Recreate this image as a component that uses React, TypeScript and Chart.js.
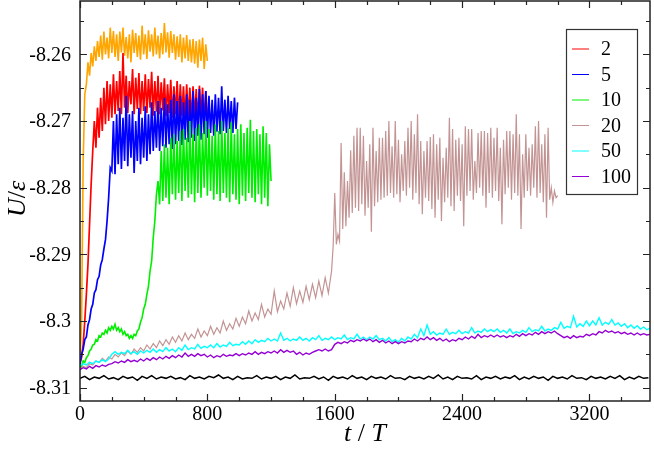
import React, { useEffect, useRef } from "react";
import { Chart, registerables } from "chart.js";

Chart.register(...registerables);

// ---- data (U/eps versus t/T) ----
// orange reference run (no legend entry), t = 0..800, step 10
const orangeU = [
  -8.3060, -8.3000, -8.2760, -8.2660, -8.2645, -8.2612, -8.2632, -8.2598, -8.2618, -8.2588,
  -8.2610, -8.2580, -8.2604, -8.2572, -8.2608, -8.2566, -8.2600, -8.2575, -8.2606, -8.2560,
  -8.2598, -8.2565, -8.2604, -8.2570, -8.2610, -8.2566, -8.2597, -8.2560, -8.2602, -8.2574,
  -8.2606, -8.2570, -8.2612, -8.2563, -8.2598, -8.2568, -8.2604, -8.2572, -8.2608, -8.2557,
  -8.2600, -8.2570, -8.2607, -8.2564, -8.2596, -8.2570, -8.2603, -8.2560, -8.2600, -8.2572,
  -8.2606, -8.2568, -8.2600, -8.2553, -8.2597, -8.2567, -8.2605, -8.2565, -8.2598, -8.2570,
  -8.2608, -8.2573, -8.2604, -8.2570, -8.2612, -8.2575, -8.2606, -8.2571, -8.2610, -8.2578,
  -8.2612, -8.2577, -8.2614, -8.2580, -8.2620, -8.2578, -8.2610, -8.2575, -8.2622, -8.2585,
  -8.2610,
];

// N = 2, t = 0..800, step 10
const n2U = [
  -8.3062, -8.3055, -8.3035, -8.3000, -8.2960, -8.2915, -8.2855, -8.2795, -8.2745, -8.2700,
  -8.2740, -8.2680, -8.2725, -8.2665, -8.2715, -8.2650, -8.2705, -8.2640, -8.2700, -8.2645,
  -8.2695, -8.2630, -8.2690, -8.2640, -8.2685, -8.2625, -8.2690, -8.2598, -8.2680, -8.2632,
  -8.2688, -8.2640, -8.2675, -8.2622, -8.2690, -8.2635, -8.2682, -8.2628, -8.2690, -8.2640,
  -8.2685, -8.2630, -8.2688, -8.2637, -8.2680, -8.2626, -8.2692, -8.2640, -8.2686, -8.2632,
  -8.2690, -8.2642, -8.2684, -8.2636, -8.2693, -8.2645, -8.2688, -8.2638, -8.2695, -8.2648,
  -8.2690, -8.2640, -8.2696, -8.2645, -8.2692, -8.2648, -8.2698, -8.2645, -8.2694, -8.2650,
  -8.2700, -8.2648, -8.2696, -8.2652, -8.2700, -8.2647, -8.2695, -8.2650, -8.2702, -8.2655,
  -8.2690,
];

// N = 5, t = 0..990, step 10
const n5U = [
  -8.3065, -8.3050, -8.3042, -8.3028, -8.3024, -8.3006, -8.2998, -8.2982, -8.2975, -8.2958,
  -8.2953, -8.2938, -8.2933, -8.2916, -8.2908, -8.2892, -8.2878, -8.2850, -8.2815, -8.2770,
  -8.2775, -8.2700, -8.2780, -8.2690, -8.2765, -8.2680, -8.2772, -8.2695, -8.2760, -8.2662,
  -8.2768, -8.2690, -8.2755, -8.2685, -8.2778, -8.2700, -8.2760, -8.2680, -8.2765, -8.2695,
  -8.2755, -8.2678, -8.2760, -8.2690, -8.2750, -8.2672, -8.2745, -8.2685, -8.2740, -8.2670,
  -8.2745, -8.2680, -8.2738, -8.2665, -8.2740, -8.2675, -8.2735, -8.2668, -8.2742, -8.2660,
  -8.2735, -8.2670, -8.2730, -8.2662, -8.2736, -8.2672, -8.2728, -8.2660, -8.2732, -8.2668,
  -8.2725, -8.2655, -8.2730, -8.2665, -8.2722, -8.2652, -8.2728, -8.2660, -8.2720, -8.2655,
  -8.2725, -8.2662, -8.2718, -8.2668, -8.2722, -8.2660, -8.2716, -8.2665, -8.2720, -8.2648,
  -8.2715, -8.2668, -8.2718, -8.2662, -8.2712, -8.2670, -8.2718, -8.2665, -8.2712, -8.2672,
];

// N = 10, t = 0..1200, step 10
const n10U = [
  -8.3070, -8.3068, -8.3060, -8.3062, -8.3055, -8.3052, -8.3045, -8.3042, -8.3036, -8.3035,
  -8.3028, -8.3030, -8.3022, -8.3024, -8.3018, -8.3020, -8.3014, -8.3018, -8.3010, -8.3014,
  -8.3008, -8.3012, -8.3005, -8.3014, -8.3010, -8.3016, -8.3012, -8.3020, -8.3016, -8.3022,
  -8.3020, -8.3026, -8.3022, -8.3026, -8.3020, -8.3022, -8.3015, -8.3012, -8.3002, -8.2995,
  -8.2982, -8.2975, -8.2960, -8.2948, -8.2925, -8.2910, -8.2875, -8.2850, -8.2810, -8.2790,
  -8.2825, -8.2745, -8.2820, -8.2735, -8.2815, -8.2740, -8.2825, -8.2725, -8.2810, -8.2720,
  -8.2818, -8.2730, -8.2808, -8.2715, -8.2820, -8.2712, -8.2805, -8.2725, -8.2815, -8.2700,
  -8.2810, -8.2720, -8.2822, -8.2710, -8.2808, -8.2705, -8.2815, -8.2718, -8.2800, -8.2700,
  -8.2812, -8.2712, -8.2805, -8.2722, -8.2818, -8.2705, -8.2810, -8.2715, -8.2820, -8.2700,
  -8.2808, -8.2718, -8.2815, -8.2710, -8.2822, -8.2702, -8.2810, -8.2720, -8.2818, -8.2712,
  -8.2825, -8.2705, -8.2812, -8.2718, -8.2820, -8.2710, -8.2808, -8.2698, -8.2815, -8.2715,
  -8.2822, -8.2712, -8.2810, -8.2720, -8.2825, -8.2708, -8.2815, -8.2718, -8.2828, -8.2735,
  -8.2790,
];

// N = 20, slow part t = 0..1580 (step 20), then t = 1590..3000 (step 10)
const n20EarlyU = [
  -8.3072, -8.3068, -8.3070, -8.3064, -8.3066, -8.3060, -8.3062, -8.3056, -8.3060, -8.3054,
  -8.3057, -8.3050, -8.3054, -8.3048, -8.3052, -8.3045, -8.3050, -8.3042, -8.3047, -8.3040,
  -8.3045, -8.3036, -8.3042, -8.3034, -8.3040, -8.3030, -8.3037, -8.3028, -8.3035, -8.3024,
  -8.3032, -8.3022, -8.3030, -8.3018, -8.3028, -8.3020, -8.3026, -8.3012, -8.3024, -8.3015,
  -8.3022, -8.3008, -8.3020, -8.3010, -8.3018, -8.3000, -8.3014, -8.3004, -8.3012, -8.2996,
  -8.3008, -8.2994, -8.3004, -8.2985, -8.3000, -8.2988, -8.2998, -8.2975, -8.2994, -8.2982,
  -8.2990, -8.2955, -8.2986, -8.2970, -8.2982, -8.2958, -8.2978, -8.2950, -8.2974, -8.2955,
  -8.2972, -8.2948, -8.2968, -8.2945, -8.2965, -8.2940, -8.2962, -8.2935, -8.2958, -8.2925,
];
const n20LateU = [
  -8.2888, -8.2808, -8.2885, -8.2870, -8.2880, -8.2733, -8.2862, -8.2777, -8.2858, -8.2790,
  -8.2845, -8.2744, -8.2838, -8.2722, -8.2830, -8.2710, -8.2835, -8.2710, -8.2825, -8.2722,
  -8.2842, -8.2760, -8.2830, -8.2735, -8.2866, -8.2710, -8.2828, -8.2745, -8.2822, -8.2725,
  -8.2818, -8.2725, -8.2815, -8.2715, -8.2812, -8.2700, -8.2808, -8.2738, -8.2815, -8.2700,
  -8.2810, -8.2728, -8.2822, -8.2750, -8.2805, -8.2730, -8.2812, -8.2710, -8.2800, -8.2700,
  -8.2818, -8.2720, -8.2808, -8.2690, -8.2825, -8.2730, -8.2840, -8.2745, -8.2815, -8.2730,
  -8.2820, -8.2724, -8.2832, -8.2720, -8.2845, -8.2735, -8.2818, -8.2725, -8.2850, -8.2755,
  -8.2822, -8.2740, -8.2815, -8.2695, -8.2828, -8.2712, -8.2835, -8.2728, -8.2812, -8.2725,
  -8.2820, -8.2735, -8.2858, -8.2708, -8.2812, -8.2712, -8.2805, -8.2712, -8.2818, -8.2760,
  -8.2808, -8.2718, -8.2800, -8.2715, -8.2812, -8.2715, -8.2830, -8.2718, -8.2808, -8.2710,
  -8.2815, -8.2725, -8.2805, -8.2710, -8.2820, -8.2740, -8.2855, -8.2728, -8.2810, -8.2715,
  -8.2800, -8.2715, -8.2818, -8.2720, -8.2808, -8.2690, -8.2812, -8.2720, -8.2862, -8.2750,
  -8.2815, -8.2720, -8.2805, -8.2740, -8.2812, -8.2735, -8.2800, -8.2708, -8.2815, -8.2700,
  -8.2808, -8.2735, -8.2822, -8.2720, -8.2845, -8.2710, -8.2818, -8.2800, -8.2822, -8.2805,
  -8.2815, -8.2812,
];

// N = 50, t = 0..3580, step 20
const n50U = [
  -8.3067, -8.3064, -8.3066, -8.3062, -8.3064, -8.3060, -8.3062, -8.3058, -8.3061, -8.3057,
  -8.3050, -8.3046, -8.3050, -8.3047, -8.3049, -8.3044, -8.3049, -8.3046, -8.3050, -8.3045,
  -8.3048, -8.3044, -8.3047, -8.3042, -8.3047, -8.3043, -8.3046, -8.3040, -8.3045, -8.3042,
  -8.3046, -8.3040, -8.3044, -8.3036, -8.3043, -8.3040, -8.3042, -8.3035, -8.3041, -8.3038,
  -8.3040, -8.3036, -8.3040, -8.3034, -8.3039, -8.3036, -8.3038, -8.3032, -8.3037, -8.3035,
  -8.3036, -8.3031, -8.3035, -8.3030, -8.3034, -8.3028, -8.3032, -8.3029, -8.3031, -8.3026,
  -8.3030, -8.3027, -8.3030, -8.3018, -8.3029, -8.3026, -8.3030, -8.3027, -8.3029, -8.3024,
  -8.3029, -8.3026, -8.3030, -8.3025, -8.3028, -8.3022, -8.3029, -8.3026, -8.3028, -8.3024,
  -8.3028, -8.3025, -8.3027, -8.3021, -8.3028, -8.3025, -8.3027, -8.3020, -8.3027, -8.3024,
  -8.3028, -8.3024, -8.3027, -8.3022, -8.3028, -8.3026, -8.3030, -8.3025, -8.3031, -8.3028,
  -8.3032, -8.3026, -8.3030, -8.3024, -8.3027, -8.3020, -8.3025, -8.3012, -8.3022, -8.3006,
  -8.3020, -8.3016, -8.3021, -8.3018, -8.3020, -8.3012, -8.3020, -8.3017, -8.3019, -8.3014,
  -8.3019, -8.3016, -8.3018, -8.3010, -8.3018, -8.3015, -8.3017, -8.3012, -8.3016, -8.3013,
  -8.3016, -8.3012, -8.3017, -8.3014, -8.3018, -8.3012, -8.3019, -8.3016, -8.3018, -8.3014,
  -8.3017, -8.3010, -8.3016, -8.3013, -8.3015, -8.3008, -8.3015, -8.3012, -8.3014, -8.3010,
  -8.3012, -8.3002, -8.3011, -8.3008, -8.3010, -8.2993, -8.3009, -8.3004, -8.3008, -8.3000,
  -8.3007, -8.3000, -8.3006, -8.2995, -8.3006, -8.3002, -8.3005, -8.2998, -8.3006, -8.3003,
  -8.3008, -8.3004, -8.3010, -8.3006, -8.3011, -8.3007, -8.3012, -8.3009, -8.3013, -8.3011,
];

// N = 100, t = 0..3580, step 20
const n100U = [
  -8.3073, -8.3070, -8.3072, -8.3068, -8.3071, -8.3067, -8.3069, -8.3066, -8.3068, -8.3065,
  -8.3064, -8.3061, -8.3063, -8.3060, -8.3062, -8.3058, -8.3061, -8.3059, -8.3061, -8.3057,
  -8.3060, -8.3056, -8.3059, -8.3055, -8.3058, -8.3054, -8.3057, -8.3053, -8.3056, -8.3052,
  -8.3055, -8.3051, -8.3054, -8.3048, -8.3053, -8.3050, -8.3053, -8.3049, -8.3052, -8.3050,
  -8.3054, -8.3051, -8.3055, -8.3052, -8.3054, -8.3050, -8.3053, -8.3051, -8.3052, -8.3049,
  -8.3052, -8.3049, -8.3051, -8.3048, -8.3050, -8.3046, -8.3050, -8.3047, -8.3049, -8.3046,
  -8.3048, -8.3045, -8.3048, -8.3043, -8.3047, -8.3044, -8.3047, -8.3045, -8.3050, -8.3047,
  -8.3051, -8.3048, -8.3050, -8.3047, -8.3045, -8.3043, -8.3045, -8.3042, -8.3045, -8.3043,
  -8.3035, -8.3032, -8.3034, -8.3031, -8.3033, -8.3029, -8.3031, -8.3028, -8.3030, -8.3027,
  -8.3030, -8.3027, -8.3031, -8.3028, -8.3032, -8.3029, -8.3033, -8.3030, -8.3034, -8.3031,
  -8.3034, -8.3031, -8.3033, -8.3030, -8.3031, -8.3027, -8.3030, -8.3026, -8.3028, -8.3024,
  -8.3028, -8.3025, -8.3029, -8.3026, -8.3030, -8.3027, -8.3031, -8.3028, -8.3030, -8.3026,
  -8.3028, -8.3024, -8.3027, -8.3023, -8.3026, -8.3020, -8.3025, -8.3022, -8.3024, -8.3021,
  -8.3024, -8.3021, -8.3024, -8.3022, -8.3025, -8.3022, -8.3024, -8.3020, -8.3023, -8.3019,
  -8.3022, -8.3019, -8.3021, -8.3017, -8.3020, -8.3016, -8.3019, -8.3016, -8.3018, -8.3015,
  -8.3019, -8.3022, -8.3025, -8.3023, -8.3026, -8.3022, -8.3025, -8.3023, -8.3024, -8.3020,
  -8.3022, -8.3019, -8.3021, -8.3016, -8.3018, -8.3014, -8.3017, -8.3015, -8.3018, -8.3016,
  -8.3019, -8.3017, -8.3020, -8.3018, -8.3021, -8.3018, -8.3021, -8.3019, -8.3021, -8.3020,
];

// black baseline run (no legend entry), t = 0..3570, step 30
const baseU = [
  -8.3086, -8.3083, -8.3088, -8.3084, -8.3086, -8.3082, -8.3087, -8.3085, -8.3088, -8.3083,
  -8.3086, -8.3084, -8.3089, -8.3083, -8.3086, -8.3082, -8.3087, -8.3084, -8.3086, -8.3083,
  -8.3087, -8.3085, -8.3088, -8.3082, -8.3086, -8.3084, -8.3087, -8.3083, -8.3085, -8.3081,
  -8.3086, -8.3084, -8.3088, -8.3083, -8.3087, -8.3085, -8.3086, -8.3082, -8.3087, -8.3084,
  -8.3086, -8.3083, -8.3088, -8.3084, -8.3086, -8.3081, -8.3087, -8.3085, -8.3086, -8.3083,
  -8.3087, -8.3084, -8.3089, -8.3083, -8.3086, -8.3084, -8.3087, -8.3082, -8.3086, -8.3084,
  -8.3088, -8.3083, -8.3086, -8.3084, -8.3087, -8.3082, -8.3086, -8.3085, -8.3088, -8.3083,
  -8.3086, -8.3084, -8.3087, -8.3083, -8.3086, -8.3081, -8.3087, -8.3084, -8.3088, -8.3083,
  -8.3086, -8.3085, -8.3087, -8.3082, -8.3088, -8.3084, -8.3086, -8.3083, -8.3087, -8.3084,
  -8.3086, -8.3082, -8.3088, -8.3084, -8.3087, -8.3083, -8.3086, -8.3084, -8.3089, -8.3083,
  -8.3086, -8.3084, -8.3087, -8.3082, -8.3086, -8.3085, -8.3088, -8.3083, -8.3086, -8.3084,
  -8.3087, -8.3083, -8.3086, -8.3082, -8.3088, -8.3084, -8.3087, -8.3083, -8.3086, -8.3085,
];

// axes
const xMax = 3580;
const yMin = -8.312;
const yMax = -8.252;
const xTickValues = [0, 200, 400, 600, 800, 1000, 1200, 1400, 1600, 1800, 2000, 2200, 2400, 2600, 2800, 3000, 3200, 3400];
const xTickLabels = ["0", "800", "1600", "2400", "3200"];
const yTickValues = [-8.31, -8.305, -8.3, -8.295, -8.29, -8.285, -8.28, -8.275, -8.27, -8.265, -8.26, -8.255];
const yTickLabels = ["-8.31", "-8.3", "-8.29", "-8.28", "-8.27", "-8.26"];

const toPoints = (start: number, step: number, values: number[]) =>
    values.map((y, i) => ({ x: start + i * step, y }));

const labelFor = (v: number, labels: string[]) =>
    labels.find((l) => Math.abs(parseFloat(l) - v) < 1e-7) ?? "";

const SERIF = "'Liberation Serif', 'Times New Roman', serif";

// draws a run of [text, italic] pieces centred on (0,0)
function drawPieces(ctx: CanvasRenderingContext2D, pieces: [string, boolean][], size: number) {
    const fonts = pieces.map(([, it]) => `${it ? "italic " : ""}${size}px ${SERIF}`);
    const widths = pieces.map(([t], i) => {
        ctx.font = fonts[i];
        return ctx.measureText(t).width;
    });
    let x = -widths.reduce((a, b) => a + b, 0) / 2;
    pieces.forEach(([t], i) => {
        ctx.font = fonts[i];
        ctx.fillText(t, x, 0);
        x += widths[i];
    });
}

// frame, inward ticks on all four sides, tick labels, axis titles and boxed legend
const framePlugin = {
    id: "frameAndLegend",
    afterDatasetsDraw(chart: any) {
        const { ctx, chartArea: a, scales } = chart;
        ctx.save();
        ctx.strokeStyle = "#222";
        ctx.lineWidth = 1.5;
        ctx.strokeRect(a.left, a.top, a.right - a.left, a.bottom - a.top);

        ctx.lineWidth = 1.2;
        ctx.beginPath();
        scales.x.ticks.forEach((t: any) => {
            const px = Math.round(scales.x.getPixelForValue(t.value)) + 0.5;
            const len = t.label ? 7 : 4;
            ctx.moveTo(px, a.bottom);
            ctx.lineTo(px, a.bottom - len);
            ctx.moveTo(px, a.top);
            ctx.lineTo(px, a.top + len);
        });
        scales.y.ticks.forEach((t: any) => {
            const py = Math.round(scales.y.getPixelForValue(t.value)) + 0.5;
            const len = t.label ? 7 : 4;
            ctx.moveTo(a.left, py);
            ctx.lineTo(a.left + len, py);
            ctx.moveTo(a.right, py);
            ctx.lineTo(a.right - len, py);
        });
        ctx.stroke();

        // tick labels
        ctx.fillStyle = "#000";
        ctx.font = `20px ${SERIF}`;
        ctx.textAlign = "center";
        ctx.textBaseline = "top";
        scales.x.ticks.forEach((t: any) => {
            if (t.label) ctx.fillText(t.label, scales.x.getPixelForValue(t.value), a.bottom + 4);
        });
        ctx.textAlign = "right";
        ctx.textBaseline = "middle";
        scales.y.ticks.forEach((t: any) => {
            if (t.label) ctx.fillText(t.label, a.left - 9, scales.y.getPixelForValue(t.value) + 1);
        });

        // axis titles
        ctx.textAlign = "left";
        ctx.textBaseline = "middle";
        ctx.save();
        ctx.translate((a.left + a.right) / 2, a.bottom + 33);
        drawPieces(ctx, [["t", true], [" / ", false], ["T", true]], 26);
        ctx.restore();
        ctx.save();
        ctx.translate(18, (a.top + a.bottom) / 2 - 2);
        ctx.rotate(-Math.PI / 2);
        drawPieces(ctx, [["U", true], ["/", false], ["ε", true]], 26);
        ctx.restore();

        // legend box
        const items = chart.data.datasets.filter((d: any) => d.label);
        const bx = 566, by = 29, bw = 71, bh = 165;
        ctx.fillStyle = "#fff";
        ctx.fillRect(bx, by, bw, bh);
        ctx.strokeStyle = "#333";
        ctx.lineWidth = 1.2;
        ctx.strokeRect(bx + 0.5, by + 0.5, bw, bh);
        ctx.font = `20px ${SERIF}`;
        ctx.textAlign = "left";
        ctx.textBaseline = "middle";
        items.forEach((d: any, i: number) => {
            const cy = by + 20 + i * 25.5;
            ctx.strokeStyle = d.borderColor;
            ctx.lineWidth = 1;
            ctx.beginPath();
            ctx.moveTo(bx + 6, cy);
            ctx.lineTo(bx + 23, cy);
            ctx.stroke();
            ctx.fillStyle = "#000";
            ctx.fillText(d.label, bx + 35, cy + 1);
        });
        ctx.restore();
    },
};

export default function App() {
    const canvasRef = useRef<HTMLCanvasElement | null>(null);
    const chartRef = useRef<Chart | null>(null);

    useEffect(() => {
        const canvas = canvasRef.current;
        if (!canvas) return;
        if (chartRef.current) {
            chartRef.current.destroy();
            chartRef.current = null;
        }

        const line = (label: string, color: string, data: any[], order: number, width = 1.4) => ({
            label,
            data,
            borderColor: color,
            backgroundColor: color,
            borderWidth: width,
            pointRadius: 0,
            tension: 0,
            fill: false,
            order,
        });

        chartRef.current = new Chart(canvas, {
            type: "line",
            data: {
                datasets: [
                    line("", "#ffa500", toPoints(0, 10, orangeU), 8, 1.6),
                    line("2", "#ff0000", toPoints(0, 10, n2U), 7, 1.7),
                    line("5", "#0000ff", toPoints(0, 10, n5U), 6, 1.7),
                    line("10", "#00ee00", toPoints(0, 10, n10U), 5, 1.6),
                    line("20", "#c39494", [...toPoints(0, 20, n20EarlyU), ...toPoints(1590, 10, n20LateU)], 4, 1.2),
                    line("50", "#00ffff", toPoints(0, 20, n50U), 3, 1.4),
                    line("100", "#9400d3", toPoints(0, 20, n100U), 2, 1.4),
                    line("", "#000000", toPoints(0, 30, baseU), 1, 1.5),
                ] as any,
            },
            options: {
                animation: false,
                responsive: true,
                maintainAspectRatio: false,
                layout: { padding: { top: 1, right: 4, left: 0, bottom: 0 } },
                plugins: {
                    legend: { display: false },
                    tooltip: { enabled: false },
                },
                scales: {
                    x: {
                        type: "linear",
                        min: 0,
                        max: xMax,
                        grid: { display: false, drawTicks: false },
                        border: { display: false },
                        ticks: { display: false },
                        afterBuildTicks: (s: any) => {
                            s.ticks = xTickValues.map((v) => ({ value: v }));
                        },
                        afterTickToLabelConversion: (s: any) => {
                            s.ticks.forEach((t: any) => (t.label = labelFor(t.value, xTickLabels)));
                        },
                        afterFit: (s: any) => {
                            s.height = 58;
                        },
                    },
                    y: {
                        type: "linear",
                        min: yMin,
                        max: yMax,
                        grid: { display: false, drawTicks: false },
                        border: { display: false },
                        ticks: { display: false },
                        afterBuildTicks: (s: any) => {
                            s.ticks = yTickValues.map((v) => ({ value: v }));
                        },
                        afterTickToLabelConversion: (s: any) => {
                            s.ticks.forEach((t: any) => (t.label = labelFor(t.value, yTickLabels)));
                        },
                        afterFit: (s: any) => {
                            s.width = 80;
                        },
                    },
                },
            } as any,
            plugins: [framePlugin],
        });

        return () => {
            if (chartRef.current) {
                chartRef.current.destroy();
                chartRef.current = null;
            }
        };
    }, []);

    return (
        <div style={{ position: "fixed", left: 0, top: 0, width: "654px", height: "459px", background: "#fff" }}>
            <canvas ref={canvasRef} />
        </div>
    );
}
